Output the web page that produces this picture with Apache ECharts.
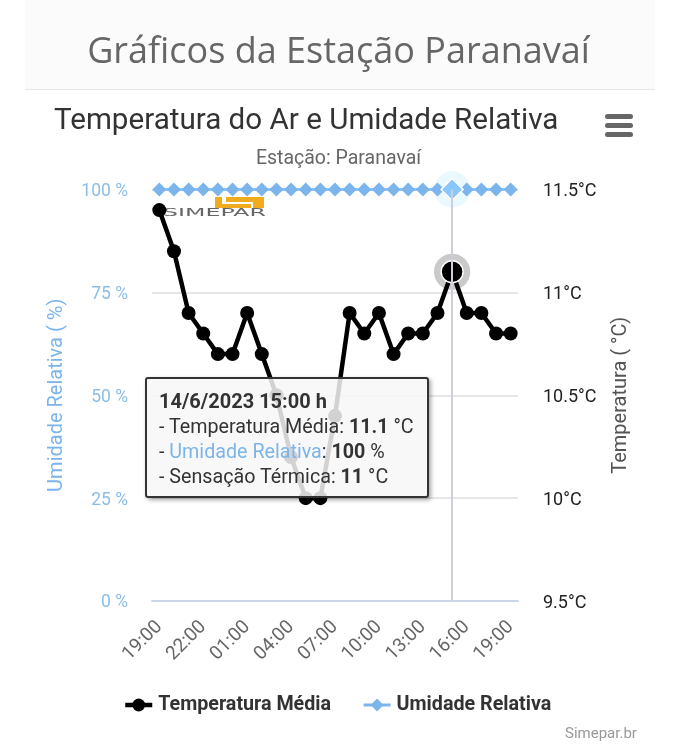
<!DOCTYPE html>
<html lang="pt-BR" style="height: 100%">
<head>
	<meta charset="utf-8">
	<title>Gráficos da Estação Paranavaí</title>
</head>
<body style="height: 100%; margin: 0; background: #fff">
<div id="container" style="width: 677px; height: 750px"></div>

<script src="https://fastly.jsdelivr.net/npm/echarts@6/dist/echarts.min.js"></script>
<script type="text/javascript">
	var horas = ['19:00', '20:00', '21:00', '22:00', '23:00', '00:00', '01:00', '02:00', '03:00', '04:00',
		'05:00', '06:00', '07:00', '08:00', '09:00', '10:00', '11:00', '12:00', '13:00', '14:00',
		'15:00', '16:00', '17:00', '18:00', '19:00'];
	var tempMedia = [11.4, 11.2, 10.9, 10.8, 10.7, 10.7, 10.9, 10.7, 10.5, 10.2,
		10.0, 10.0, 10.4, 10.9, 10.8, 10.9, 10.7, 10.8, 10.8, 10.9,
		11.1, 10.9, 10.9, 10.8, 10.8];
	var umidade = [100, 100, 100, 100, 100, 100, 100, 100, 100, 100,
		100, 100, 100, 100, 100, 100, 100, 100, 100, 100,
		100, 100, 100, 100, 100];
	var umidadeTicks = [0, 25, 50, 75, 100];
	var sensacaoDestaque = 11;
	var dataDestaque = '14/6/2023';
	var iDestaque = 20;

	var fonte = 'Roboto, sans-serif';
	var azul = '#7cb5ec';

	var myChart = echarts.init(document.getElementById('container'), null, { renderer: 'canvas' });

	var tooltipHtml = '<div style="font-size:20px;font-weight:bold;line-height:25px">' + dataDestaque + ' ' + horas[iDestaque] + ' h</div>'
		+ '<div style="line-height:25px">- Temperatura Média: <b>' + tempMedia[iDestaque] + '</b> °C</div>'
		+ '<div style="line-height:25px">- <span style="color:' + azul + '">Umidade Relativa</span>: <b>' + umidade[iDestaque] + '</b> %</div>'
		+ '<div style="line-height:25px">- Sensação Térmica: <b>' + sensacaoDestaque + '</b> °C</div>';

	var option = {
		animation: false,
		textStyle: { fontFamily: fonte },
		title: [
			{
				text: 'Gráficos da Estação Paranavaí',
				left: 'center', top: 30,
				textStyle: { fontFamily: '"Open Sans", sans-serif', fontSize: 36, fontWeight: 'normal', color: '#666' }
			},
			{
				text: 'Temperatura do Ar e Umidade Relativa',
				left: 49, top: 102,
				textStyle: { fontFamily: fonte, fontSize: 29.6, fontWeight: 'normal', color: '#333' }
			},
			{
				text: 'Estação: Paranavaí',
				left: 'center', top: 144,
				textStyle: { fontFamily: fonte, fontSize: 19.5, fontWeight: 'normal', color: '#666' }
			},
			{
				text: 'Simepar.br',
				left: 560, top: 722,
				textStyle: { fontFamily: fonte, fontSize: 15, fontWeight: 'normal', color: '#999' }
			}
		],
		graphic: [
			{ type: 'rect', z: -1, shape: { x: 25, y: 0, width: 630, height: 89 }, style: { fill: '#fbfbfb' } },
			{ type: 'rect', z: -1, shape: { x: 25, y: 89, width: 630, height: 1 }, style: { fill: '#e7e7e7' } },
			// menu
			{ type: 'rect', shape: { x: 605, y: 114, width: 28, height: 5, r: 2.5 }, style: { fill: '#666' } },
			{ type: 'rect', shape: { x: 605, y: 123, width: 28, height: 5, r: 2.5 }, style: { fill: '#666' } },
			{ type: 'rect', shape: { x: 605, y: 132, width: 28, height: 5, r: 2.5 }, style: { fill: '#666' } },
			// logo
			{ type: 'rect', shape: { x: 215, y: 197, width: 49, height: 11 }, style: { fill: '#f0ac1e' } },
			{ type: 'rect', shape: { x: 222, y: 197, width: 4, height: 6 }, style: { fill: '#fff' } },
			{ type: 'rect', shape: { x: 222, y: 202, width: 31, height: 2 }, style: { fill: '#fff' } },
			{ type: 'rect', shape: { x: 251, y: 202, width: 2, height: 6 }, style: { fill: '#fff' } },
			{
				type: 'text', x: 163, y: 208, scaleX: 2.37, scaleY: 1.05,
				style: { text: 'SIMEPAR', fontFamily: '"DejaVu Sans"', fontSize: 10, fill: '#666' }
			}
		],
		legend: {
			left: 118, top: 690,
			itemWidth: 27, itemHeight: 16, itemGap: 31,
			lineStyle: { width: 'inherit' },
			data: ['Temperatura Média', 'Umidade Relativa'],
			textStyle: { fontFamily: fonte, fontSize: 19.7, fontWeight: 'bold', color: '#333', padding: [0, 0, 0, 1] }
		},
		grid: { left: 152, right: 159, top: 189.5, height: 411.5, containLabel: false },
		tooltip: {
			trigger: 'axis',
			alwaysShowContent: true,
			transitionDuration: 0,
			position: [145, 377],
			backgroundColor: 'rgba(247,247,247,0.85)',
			borderColor: '#333',
			borderWidth: 2,
			padding: [10, 12, 7, 12],
			textStyle: { fontFamily: fonte, fontSize: 19.7, color: '#333' },
			extraCssText: 'box-shadow:2px 2px 4px rgba(0,0,0,0.35);border-radius:3px;width:256px;box-sizing:content-box;white-space:nowrap;',
			axisPointer: { type: 'line', lineStyle: { color: '#ccd0d8', width: 2, type: 'solid' } },
			formatter: function () { return tooltipHtml; }
		},
		xAxis: {
			type: 'category',
			data: horas,
			boundaryGap: true,
			axisTick: { show: false },
			axisLine: { lineStyle: { color: '#ccd6eb', width: 2 } },
			axisLabel: { interval: 2, rotate: 45, fontSize: 19, color: '#666', margin: 23, fontFamily: fonte }
		},
		yAxis: [
			{
				type: 'value', min: umidadeTicks[0], max: umidadeTicks[4], interval: 25,
				name: 'Umidade Relativa ( %)', nameLocation: 'middle', nameGap: 85,
				nameTextStyle: { color: azul, fontSize: 20, fontFamily: fonte },
				axisLabel: { formatter: '{value} %', color: '#8dbde6', fontSize: 17.5, margin: 24, verticalAlign: 'top', lineHeight: 4, fontFamily: fonte },
				axisLine: { show: false }, axisTick: { show: false },
				splitLine: { lineStyle: { color: '#e6e6e6', width: 2 } }
			},
			{
				type: 'value', min: 9.5, max: 11.5, interval: 0.5,
				name: 'Temperatura ( °C)', nameLocation: 'middle', nameGap: 93,
				nameTextStyle: { color: '#555', fontSize: 20, fontFamily: fonte },
				axisLabel: { formatter: '{value}°C', color: '#222', fontSize: 18, margin: 25, verticalAlign: 'top', lineHeight: 4, fontFamily: fonte },
				axisLine: { show: false }, axisTick: { show: false },
				splitLine: { show: false }
			}
		],
		series: [
			{
				name: 'Temperatura Média', type: 'line', yAxisIndex: 1, z: 3,
				data: tempMedia,
				symbol: 'circle', symbolSize: 14, showAllSymbol: true,
				lineStyle: { color: '#000', width: 4.5 },
				itemStyle: { color: '#000' },
				emphasis: { scale: false }
			},
			{
				name: 'Umidade Relativa', type: 'line', yAxisIndex: 0, z: 3,
				data: umidade,
				symbol: 'diamond', symbolSize: 14, showAllSymbol: true,
				lineStyle: { color: azul, width: 3 },
				itemStyle: { color: azul },
				emphasis: { scale: false }
			},
			// halos do ponto selecionado
			{
				type: 'scatter', yAxisIndex: 1, z: 1, silent: true, symbolSize: 33,
				data: [[iDestaque, tempMedia[iDestaque]]],
				itemStyle: { color: '#b8b8b8', opacity: 1 }
			},
			{
				type: 'scatter', yAxisIndex: 1, z: 4, silent: true, symbolSize: 20,
				data: [[iDestaque, tempMedia[iDestaque]]],
				itemStyle: { color: '#000', borderColor: '#fff', borderWidth: 1.5, opacity: 1 }
			},
			{
				type: 'scatter', yAxisIndex: 0, z: 1, silent: true, symbolSize: 33,
				data: [[iDestaque, umidade[iDestaque]]],
				itemStyle: { color: '#d5e2f0', opacity: 1 }
			},
			{
				type: 'scatter', yAxisIndex: 0, z: 4, silent: true, symbol: 'diamond', symbolSize: 20,
				data: [[iDestaque, umidade[iDestaque]]],
				itemStyle: { color: azul, borderColor: '#fff', borderWidth: 1.5, opacity: 1 }
			}
		]
	};

	myChart.setOption(option);
	myChart.dispatchAction({ type: 'showTip', seriesIndex: 0, dataIndex: iDestaque });
	window.addEventListener('resize', myChart.resize);
</script>
</body>
</html>
